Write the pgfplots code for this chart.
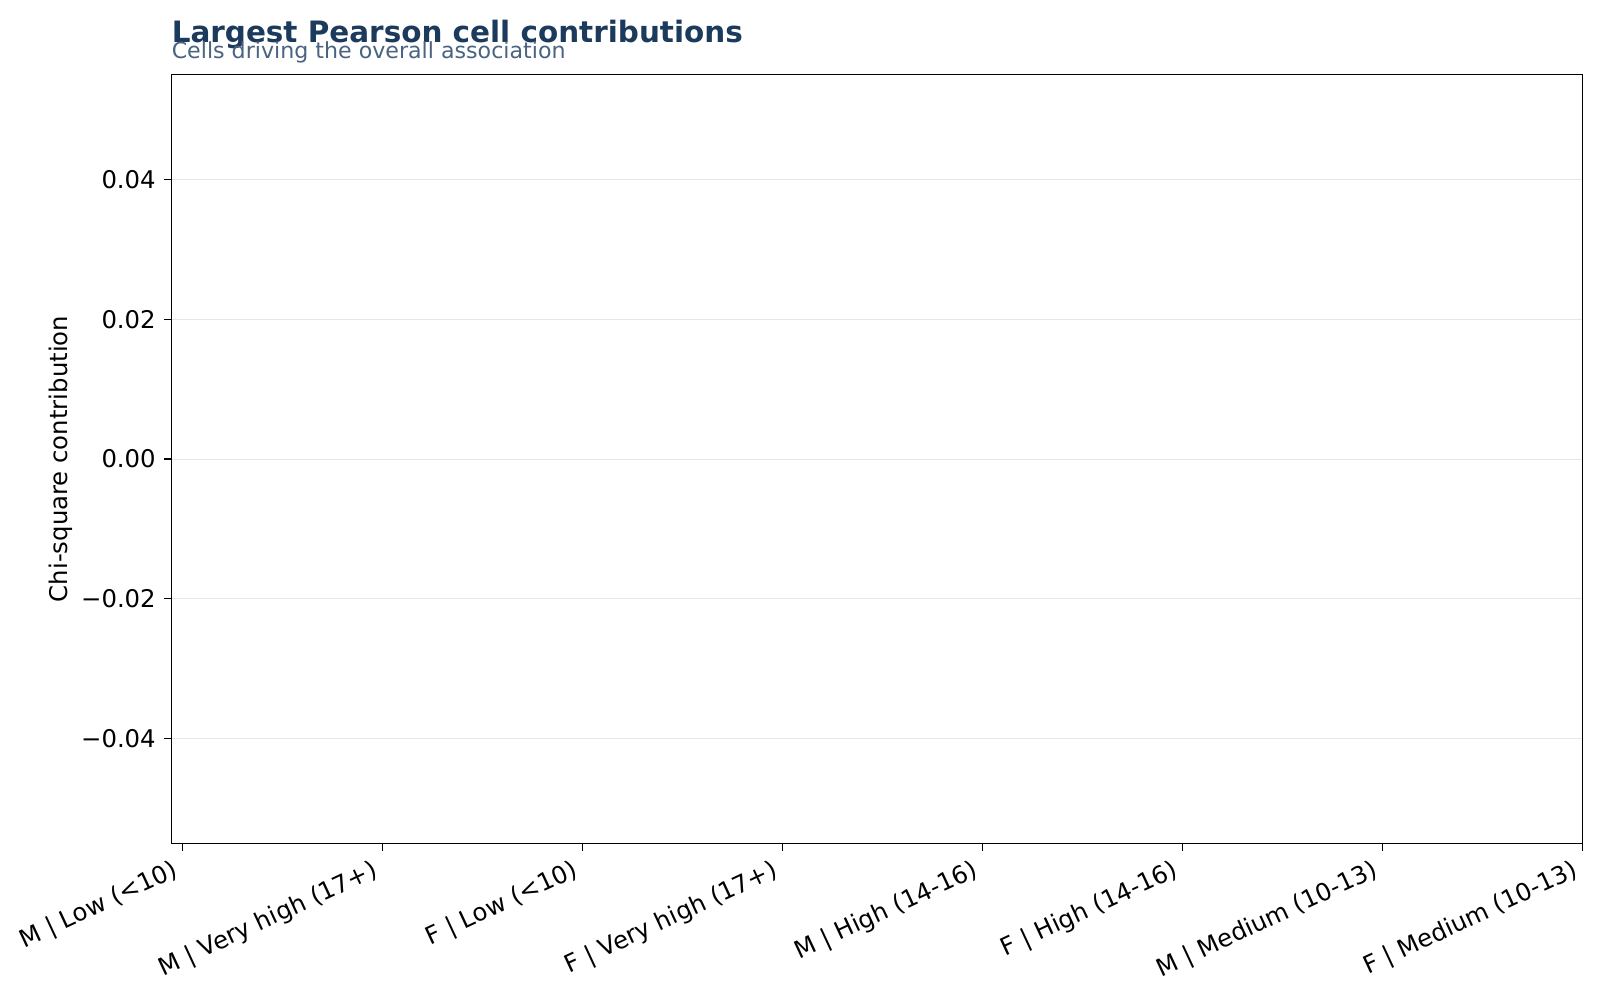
\documentclass[border=0pt]{standalone}
\usepackage{pgfplots}
\pgfplotsset{compat=1.18}
\usepackage{fontspec}
\setmainfont{DejaVu Sans}
\definecolor{titlec}{HTML}{1B3A5C}
\definecolor{subc}{HTML}{4A6380}
\definecolor{gridc}{HTML}{E6E6E6}
\begin{document}
\begin{tikzpicture}
\useasboundingbox (0,0) rectangle (720bp,450.45bp);
\begin{axis}[
  at={(77.1bp,71bp)}, anchor=south west,
  scale only axis, width=635bp, height=345.8bp,
  xmin=-0.055, xmax=7, ymin=-0.055, ymax=0.055,
  scaled y ticks=false,
  xtick={0,1,2,3,4,5,6,7},
  xticklabels={M | Low (<10), M | Very high (17+), F | Low (<10), F | Very high (17+), M | High (14-16), F | High (14-16), M | Medium (10-13), F | Medium (10-13)},
  xticklabel style={xshift=-4.5bp, yshift=-2bp, rotate=25, anchor=north east, font=\fontsize{11}{13}\selectfont, inner sep=1pt},
  ytick={-0.04,-0.02,0,0.02,0.04},
  yticklabels={−0.04,−0.02,0.00,0.02,0.04},
  yticklabel style={font=\fontsize{11}{13}\selectfont},
  tick align=outside, tick pos=left,
  major tick length=3.5bp,
  ymajorgrids, xmajorgrids=false,
  grid style={gridc, line width=0.4pt},
  axis line style={line width=0.6pt},
  tick style={black, line width=0.6pt},
  ylabel={Chi-square contribution},
  ylabel style={font=\fontsize{11}{13}\selectfont, yshift=-3.2bp},
  ybar, bar width=0.6,
]
\addplot[fill=none, draw=none] coordinates {(0,0) (1,0) (2,0) (3,0) (4,0) (5,0) (6,0) (7,0)};
\end{axis}
\node[anchor=base west, inner sep=0pt, text=titlec, font=\bfseries\fontsize{13.3}{15}\selectfont] at (77.1bp,431.5bp) {Largest Pearson cell contributions};
\node[anchor=base west, inner sep=0pt, text=subc, font=\fontsize{10}{12}\selectfont] at (77.1bp,424.2bp) {Cells driving the overall association};
\end{tikzpicture}
\end{document}
